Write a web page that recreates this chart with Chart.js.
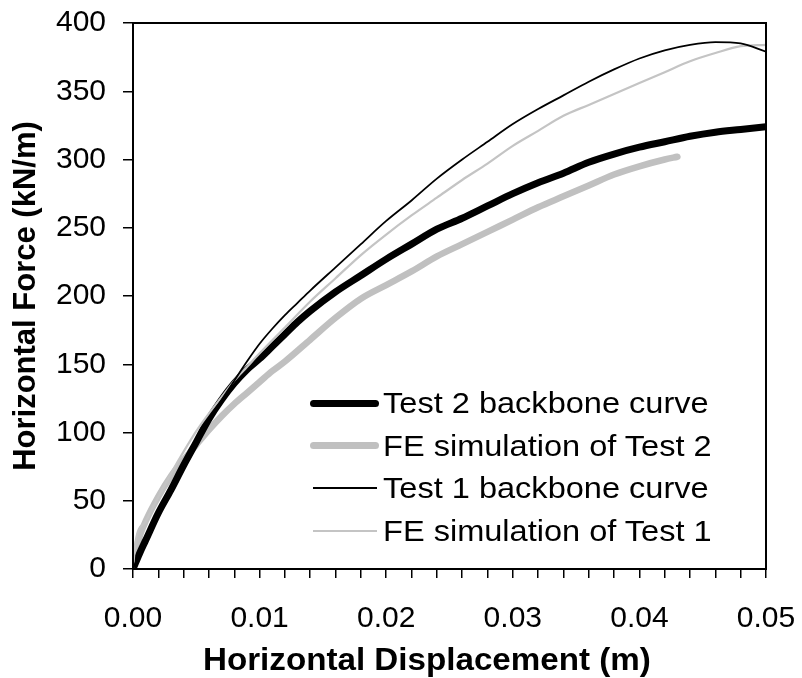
<!DOCTYPE html>
<html>
<head>
<meta charset="utf-8">
<script src="https://cdn.jsdelivr.net/npm/chart.js@4"></script>
<style>
    body { margin: 0; background: #fff; }
    #wrap { position: relative; width: 802px; height: 678px; }
    #legend {
        position: absolute; left: 310px; top: 382px;
        font-family: "Liberation Sans", Arial, sans-serif; font-size: 30px; color: #000;
    }
    .row { display: flex; align-items: center; height: 42.5px; }
    .sample { width: 69px; margin-right: 4px; border-radius: 4px; }
    .text { display: inline-block; white-space: nowrap; line-height: 1; transform: scaleX(1.085); transform-origin: left center; }
    #xtitle {
        position: absolute; left: 203px; top: 642px; white-space: nowrap;
        font-family: "Liberation Sans", Arial, sans-serif; font-size: 31px; font-weight: bold;
        line-height: 36px; transform: scaleX(1.07); transform-origin: left center;
    }
</style>
</head>
<body>
<div id="wrap">
    <canvas id="chart" width="802" height="678"></canvas>
    <div id="legend"></div>
    <div id="xtitle">Horizontal Displacement (m)</div>
</div>
<script>
// -------------------- Dados --------------------
const test2Disp  = [0, 0.0005, 0.001, 0.002, 0.003, 0.004, 0.005, 0.006, 0.007, 0.008, 0.009, 0.010, 0.011, 0.012, 0.013, 0.014, 0.016, 0.018, 0.020, 0.022, 0.024, 0.026, 0.028, 0.030, 0.032, 0.034, 0.036, 0.038, 0.040, 0.042, 0.044, 0.046, 0.048, 0.050];
const test2Force = [0, 11, 21, 41, 58, 76, 93, 110, 124, 136, 146, 154, 163, 172, 181, 189, 203, 215, 227, 238, 249, 257, 266, 275, 283, 290, 298, 304, 309, 313, 317, 320, 322, 324];

const fe2Disp  = [0, 0.0003, 0.0006, 0.001, 0.002, 0.003, 0.004, 0.005, 0.006, 0.007, 0.008, 0.009, 0.010, 0.011, 0.012, 0.014, 0.016, 0.018, 0.020, 0.022, 0.024, 0.026, 0.028, 0.030, 0.032, 0.034, 0.036, 0.038, 0.040, 0.042, 0.043];
const fe2Force = [0, 16, 26, 35, 53, 68, 80, 91, 102, 112, 121, 129, 137, 145, 152, 168, 184, 198, 208, 218, 229, 238, 247, 256, 265, 273, 281, 289, 295, 300, 302];

const test1Disp  = [0, 0.001, 0.002, 0.003, 0.004, 0.005, 0.006, 0.007, 0.008, 0.009, 0.010, 0.011, 0.012, 0.013, 0.014, 0.016, 0.018, 0.020, 0.022, 0.024, 0.026, 0.028, 0.030, 0.032, 0.034, 0.036, 0.038, 0.040, 0.042, 0.044, 0.046, 0.048, 0.050];
const test1Force = [0, 23, 43, 61, 78, 95, 110, 124, 138, 152, 165, 176, 186, 195, 204, 221, 238, 255, 270, 286, 300, 313, 326, 337, 347, 357, 366, 374, 380, 384, 386, 385, 379];

const fe1Disp  = [0, 0.0002, 0.001, 0.002, 0.003, 0.004, 0.005, 0.006, 0.007, 0.008, 0.009, 0.010, 0.012, 0.014, 0.016, 0.018, 0.020, 0.022, 0.024, 0.026, 0.028, 0.030, 0.032, 0.034, 0.036, 0.038, 0.040, 0.042, 0.044, 0.046, 0.048, 0.050];
const fe1Force = [0, 20, 35, 53, 70, 86, 101, 114, 126, 138, 148, 158, 177, 196, 213, 230, 245, 259, 272, 285, 297, 310, 321, 332, 340, 348, 356, 364, 372, 378, 383, 384];

const seriesLabels = ["Test 2 backbone curve", "FE simulation of Test 2", "Test 1 backbone curve", "FE simulation of Test 1"];
const yTicks = [0, 50, 100, 150, 200, 250, 300, 350, 400];
const xLabelTicks = [0.00, 0.01, 0.02, 0.03, 0.04, 0.05];

const toPoints = (xs, ys) => xs.map((x, i) => ({ x: x, y: ys[i] }));

const FONT = "'Liberation Sans', Arial, sans-serif";

// estilo de cada série (ordem igual à legenda)
const styles = [
    { color: "#000000", width: 7, order: 2 },
    { color: "#c0c0c0", width: 6.5, order: 3 },
    { color: "#000000", width: 1.8, order: 0 },
    { color: "#c4c4c4", width: 2.2, order: 1 }
];
const dataSets = [
    toPoints(test2Disp, test2Force),
    toPoints(fe2Disp, fe2Force),
    toPoints(test1Disp, test1Force),
    toPoints(fe1Disp, fe1Force)
];

// caixa em volta da área do gráfico
const frame = {
    id: "frame",
    afterDraw(chart) {
        const a = chart.chartArea;
        const ctx = chart.ctx;
        ctx.save();
        ctx.strokeStyle = "#000";
        ctx.lineWidth = 2;
        ctx.strokeRect(a.left, a.top, a.right - a.left, a.bottom - a.top);
        ctx.restore();
    }
};

new Chart(document.getElementById("chart"), {
    type: "scatter",
    data: {
        datasets: dataSets.map((pts, i) => ({
            label: seriesLabels[i],
            data: pts,
            showLine: true,
            borderColor: styles[i].color,
            backgroundColor: styles[i].color,
            borderWidth: styles[i].width,
            borderCapStyle: "round",
            borderJoinStyle: "round",
            pointRadius: 0,
            cubicInterpolationMode: "monotone",
            order: styles[i].order
        }))
    },
    options: {
        responsive: false,
        animation: false,
        devicePixelRatio: 1,
        layout: { padding: { top: 23, right: 36, left: 0, bottom: 0 } },
        plugins: { legend: { display: false }, tooltip: { enabled: false } },
        scales: {
            x: {
                type: "linear",
                min: 0, max: 0.05,
                afterFit(scale) { scale.height = 109; scale.paddingLeft = 0; scale.paddingRight = 0; },
                grid: { drawOnChartArea: false, drawTicks: true, tickLength: 9, color: "#000", lineWidth: 1.5 },
                border: { color: "#000", width: 2 },
                ticks: {
                    stepSize: 0.002,
                    autoSkip: false,
                    maxRotation: 0,
                    padding: 23,
                    color: "#000",
                    font: { family: FONT, size: 30 },
                    callback: (v) => {
                        const hit = xLabelTicks.find(t => Math.abs(t - v) < 1e-9);
                        return hit === undefined ? "" : hit.toFixed(2);
                    }
                },
                title: { display: false }
            },
            y: {
                min: 0, max: 400,
                afterFit(scale) { scale.width = 133; scale.paddingTop = 0; scale.paddingBottom = 0; },
                afterBuildTicks(scale) { scale.ticks = yTicks.map(v => ({ value: v })); },
                grid: { drawOnChartArea: false, drawTicks: true, tickLength: 10, color: "#000", lineWidth: 1.5 },
                border: { color: "#000", width: 2 },
                ticks: {
                    padding: 17,
                    color: "#000",
                    font: { family: FONT, size: 30 }
                },
                title: {
                    display: true,
                    text: "Horizontal Force (kN/m)",
                    color: "#000",
                    font: { family: FONT, size: 31, weight: "bold", lineHeight: 1.15 },
                    padding: { top: 9, bottom: 0 }
                }
            }
        }
    },
    plugins: [frame]
});

// -------------------- Legenda (HTML) --------------------
const legend = document.getElementById("legend");
seriesLabels.forEach((label, i) => {
    const row = document.createElement("div");
    row.className = "row";
    const thin = styles[i].width < 4;
    row.innerHTML = `
        <div class="sample" style="height:${thin ? 2 : 7}px; background:${styles[i].color};
             ${thin ? "width:64px; margin-left:3px; margin-right:6px; border-radius:0;" : ""}"></div>
        <span class="text">${label}</span>
    `;
    legend.appendChild(row);
});
</script>
</body>
</html>
